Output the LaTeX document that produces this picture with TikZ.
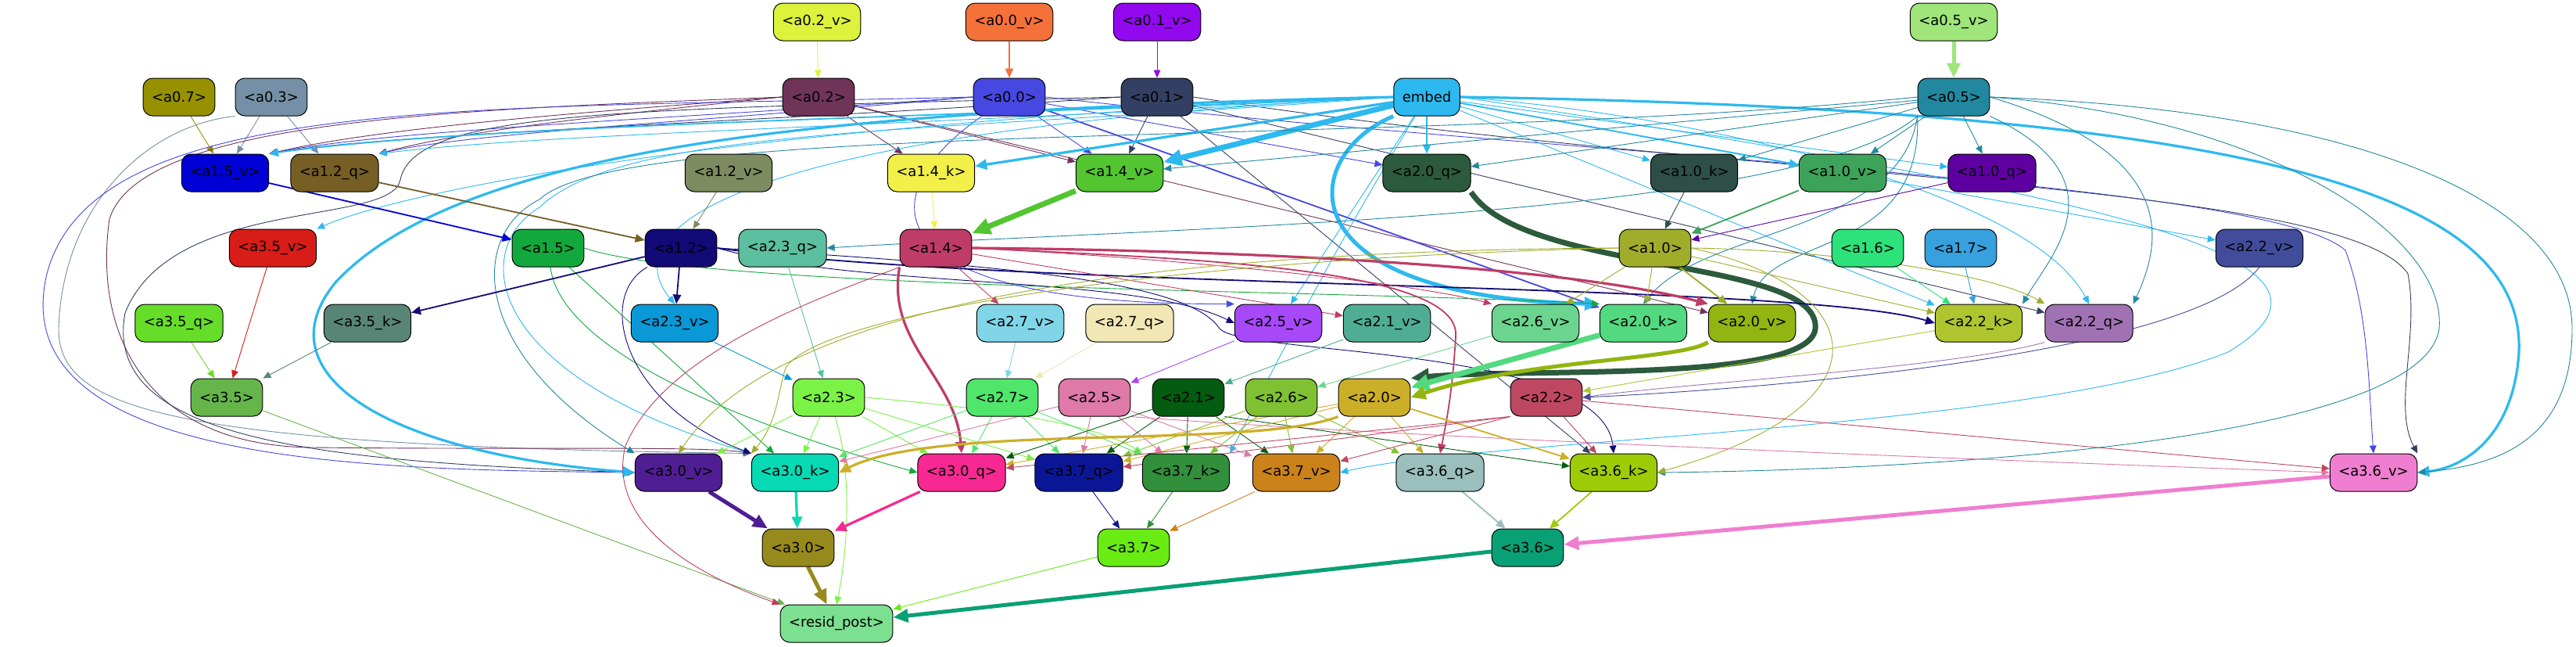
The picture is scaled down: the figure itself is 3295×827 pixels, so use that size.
\documentclass[tikz,border=0pt]{standalone}
\usepackage{fontspec}
\setmainfont{DejaVu Sans}
\usetikzlibrary{arrows.meta,backgrounds}
% node colours (edges take the colour of their source)
\definecolor{a02v}{HTML}{DCF23C}\definecolor{a00v}{HTML}{F5713A}\definecolor{a01v}{HTML}{9309EF}\definecolor{a05v}{HTML}{9FE57A}
\definecolor{a07}{HTML}{979100}\definecolor{a03}{HTML}{7590A6}\definecolor{a02}{HTML}{703459}\definecolor{a00}{HTML}{4747E1}
\definecolor{a01}{HTML}{344063}\definecolor{embed}{HTML}{2DB9EF}\definecolor{a05}{HTML}{22889F}
\definecolor{a15v}{HTML}{0000D6}\definecolor{a12q}{HTML}{765E25}\definecolor{a12v}{HTML}{7E8B61}\definecolor{a14k}{HTML}{F2F048}
\definecolor{a14v}{HTML}{52C531}\definecolor{a20q}{HTML}{2C5A3C}\definecolor{a10k}{HTML}{2D4F47}\definecolor{a10v}{HTML}{3EA35A}
\definecolor{a10q}{HTML}{5E00A1}
\definecolor{a35v}{HTML}{D81C18}\definecolor{a15}{HTML}{13A83D}\definecolor{a12}{HTML}{120A77}\definecolor{a23q}{HTML}{5CBF9F}
\definecolor{a14}{HTML}{BF3C68}\definecolor{a10}{HTML}{A0AD2B}\definecolor{a16}{HTML}{2DE27A}\definecolor{a17}{HTML}{36A1DE}
\definecolor{a22v}{HTML}{414D9B}
\definecolor{a35q}{HTML}{66DD29}\definecolor{a35k}{HTML}{598576}\definecolor{a23v}{HTML}{0A98D6}\definecolor{a27v}{HTML}{80D6E8}
\definecolor{a27q}{HTML}{F0E7B5}\definecolor{a25v}{HTML}{A748F9}\definecolor{a21v}{HTML}{4FAD94}\definecolor{a26v}{HTML}{6BD58F}
\definecolor{a20k}{HTML}{53D97F}\definecolor{a20v}{HTML}{93B511}\definecolor{a22k}{HTML}{AFC52F}\definecolor{a22q}{HTML}{A072B3}
\definecolor{a35}{HTML}{65B54A}\definecolor{a23}{HTML}{7BF246}\definecolor{a27}{HTML}{50E56B}\definecolor{a25}{HTML}{DE79A8}
\definecolor{a21}{HTML}{035C10}\definecolor{a26}{HTML}{7FC133}\definecolor{a20}{HTML}{CCAF28}\definecolor{a22}{HTML}{BE4862}
\definecolor{a30v}{HTML}{4F1E93}\definecolor{a30k}{HTML}{08D9B5}\definecolor{a30q}{HTML}{F72891}\definecolor{a37q}{HTML}{0B1697}
\definecolor{a37k}{HTML}{328F3B}\definecolor{a37v}{HTML}{CC821A}\definecolor{a36q}{HTML}{9ABFBC}\definecolor{a36k}{HTML}{9DCC07}
\definecolor{a36v}{HTML}{EF7ED0}\definecolor{a30}{HTML}{978A1C}\definecolor{a37}{HTML}{69EC14}\definecolor{a36}{HTML}{08A074}
\definecolor{resid}{HTML}{7CE091}
\tikzset{
  nd/.style={draw=black, line width=1pt, rounded corners=12pt, minimum height=48pt, inner xsep=11pt, inner ysep=0pt, font=\fontsize{18}{22}\selectfont},
  arr/.style={-{Triangle[length=8pt 2.2, width=7pt 1.9]}},
  ed/.style={arr, line width=0.9pt},
  em/.style={arr, line width=1.8pt},
  et/.style={arr, line width=3.2pt},
  ex/.style={arr, line width=5pt},
  ey/.style={arr, line width=7pt},
}
\begin{document}
\begin{tikzpicture}[x=1pt,y=-1pt]
\useasboundingbox (0,0) rectangle (3295,827);
% row 0
\node[nd, fill=a02v] (a02v) at (1045,28) {<a0.2\_v>};
\node[nd, fill=a00v] (a00v) at (1291,28) {<a0.0\_v>};
\node[nd, fill=a01v] (a01v) at (1480,28) {<a0.1\_v>};
\node[nd, fill=a05v] (a05v) at (2499,28) {<a0.5\_v>};
% row 1
\node[nd, fill=a07] (a07) at (229,124) {<a0.7>};
\node[nd, fill=a03] (a03) at (347,124) {<a0.3>};
\node[nd, fill=a02] (a02) at (1047,124) {<a0.2>};
\node[nd, fill=a00] (a00) at (1291,124) {<a0.0>};
\node[nd, fill=a01] (a01) at (1480,124) {<a0.1>};
\node[nd, fill=embed] (embed) at (1825,124) {embed};
\node[nd, fill=a05] (a05) at (2499,124) {<a0.5>};
% row 2
\node[nd, fill=a15v] (a15v) at (288,221) {<a1.5\_v>};
\node[nd, fill=a12q] (a12q) at (428,221) {<a1.2\_q>};
\node[nd, fill=a12v] (a12v) at (932,221) {<a1.2\_v>};
\node[nd, fill=a14k] (a14k) at (1191,221) {<a1.4\_k>};
\node[nd, fill=a14v] (a14v) at (1432,221) {<a1.4\_v>};
\node[nd, fill=a20q] (a20q) at (1825,221) {<a2.0\_q>};
\node[nd, fill=a10k] (a10k) at (2167,221) {<a1.0\_k>};
\node[nd, fill=a10v] (a10v) at (2357,221) {<a1.0\_v>};
\node[nd, fill=a10q] (a10q) at (2548,221) {<a1.0\_q>};
% row 3
\node[nd, fill=a35v] (a35v) at (349,317) {<a3.5\_v>};
\node[nd, fill=a15] (a15) at (701,317) {<a1.5>};
\node[nd, fill=a12] (a12) at (871,317) {<a1.2>};
\node[nd, fill=a23q] (a23q) at (1001,317) {<a2.3\_q>};
\node[nd, fill=a14] (a14) at (1197,317) {<a1.4>};
\node[nd, fill=a10] (a10) at (2117,317) {<a1.0>};
\node[nd, fill=a16] (a16) at (2389,317) {<a1.6>};
\node[nd, fill=a17] (a17) at (2508,317) {<a1.7>};
\node[nd, fill=a22v] (a22v) at (2890,317) {<a2.2\_v>};
% row 4
\node[nd, fill=a35q] (a35q) at (229,413) {<a3.5\_q>};
\node[nd, fill=a35k] (a35k) at (470,413) {<a3.5\_k>};
\node[nd, fill=a23v] (a23v) at (863,413) {<a2.3\_v>};
\node[nd, fill=a27v] (a27v) at (1305,413) {<a2.7\_v>};
\node[nd, fill=a27q] (a27q) at (1445,413) {<a2.7\_q>};
\node[nd, fill=a25v] (a25v) at (1635,413) {<a2.5\_v>};
\node[nd, fill=a21v] (a21v) at (1774,413) {<a2.1\_v>};
\node[nd, fill=a26v] (a26v) at (1964,413) {<a2.6\_v>};
\node[nd, fill=a20k] (a20k) at (2102,413) {<a2.0\_k>};
\node[nd, fill=a20v] (a20v) at (2241,413) {<a2.0\_v>};
\node[nd, fill=a22k] (a22k) at (2531,413) {<a2.2\_k>};
\node[nd, fill=a22q] (a22q) at (2672,413) {<a2.2\_q>};
% row 5
\node[nd, fill=a35] (a35) at (290,508) {<a3.5>};
\node[nd, fill=a23] (a23) at (1060,508) {<a2.3>};
\node[nd, fill=a27] (a27) at (1282,508) {<a2.7>};
\node[nd, fill=a25] (a25) at (1400,508) {<a2.5>};
\node[nd, fill=a21] (a21) at (1520,508) {<a2.1>};
\node[nd, fill=a26] (a26) at (1639,508) {<a2.6>};
\node[nd, fill=a20] (a20) at (1758,508) {<a2.0>};
\node[nd, fill=a22] (a22) at (1978,508) {<a2.2>};
% row 6
\node[nd, fill=a30v] (a30v) at (868,604) {<a3.0\_v>};
\node[nd, fill=a30k] (a30k) at (1017,604) {<a3.0\_k>};
\node[nd, fill=a30q] (a30q) at (1230,604) {<a3.0\_q>};
\node[nd, fill=a37q] (a37q) at (1380,604) {<a3.7\_q>};
\node[nd, fill=a37k] (a37k) at (1517,604) {<a3.7\_k>};
\node[nd, fill=a37v] (a37v) at (1658,604) {<a3.7\_v>};
\node[nd, fill=a36q] (a36q) at (1842,604) {<a3.6\_q>};
\node[nd, fill=a36k] (a36k) at (2064,604) {<a3.6\_k>};
\node[nd, fill=a36v] (a36v) at (3036,604) {<a3.6\_v>};
% rows 7, 8
\node[nd, fill=a30] (a30) at (1021,700) {<a3.0>};
\node[nd, fill=a37] (a37) at (1450,700) {<a3.7>};
\node[nd, fill=a36] (a36) at (1954,700) {<a3.6>};
\node[nd, fill=resid] (resid) at (1070,797) {<resid\_post>};

\begin{scope}[on background layer]
\fill[white] (0,0) rectangle (3295,827);
% inputs
\draw[ed,a02v] (a02v) -- (a02);   \draw[em,a00v] (a00v) -- (a00);   \draw[ed,a01v] (a01v) -- (a01);   \draw[ex,a05v] (a05v) -- (a05);
% a0.7, a0.3
\draw[ed,a07] (a07) -- (a15v);   \draw[ed,a03] (a03) -- (a15v);   \draw[ed,a03] (a03) -- (a12q);
\draw[ed,a03] (a03.south west) .. controls (190,160) and (80,260) .. (75,420) .. controls (75,520) and (200,570) .. (a30k.north west);
% a0.2
\draw[ed,a02] (a02.west) .. controls (800,140) and (500,160) .. (a15v.north east);
\draw[ed,a02] (a02.west) .. controls (800,145) and (600,165) .. (a12q.north east);
\draw[ed,a02] (a02) -- (a14k);   \draw[ed,a02] (a02) -- (a14v);   \draw[ed,a02] (a02) -- (a20v);
\draw[ed,a02] (a02.west) .. controls (600,140) and (180,150) .. (140,280) .. controls (120,420) and (180,570) .. (400,572) .. controls (700,575) and (900,570) .. (a30k.north west);
% a0.0
\draw[ed,a00] (a00.west) .. controls (900,150) and (500,165) .. (a15v.north east);
\draw[ed,a00] (a00.west) .. controls (900,155) and (600,170) .. (a12q.north east);
\draw[ed,a00] (a00) -- (a14v);   \draw[ed,a00] (a00) -- (a20q);   \draw[em,a00] (a00) -- (a20k);
\draw[ed,a00] (a00) .. controls (1110,250) and (1110,390) .. (a25v.north west);
\draw[ed,a00] (a00.west) .. controls (600,140) and (120,120) .. (60,350) .. controls (0,600) and (500,600) .. (a30v.west);
\draw[ed,a00] (a00.east) .. controls (2000,200) and (2900,230) .. (3000,320) .. controls (3030,400) and (3030,500) .. (a36v.north);
% a0.1
\draw[ed,a01] (a01.west) .. controls (1000,155) and (500,170) .. (a15v.north east);
\draw[ed,a01] (a01) -- (a14v);   \draw[ed,a01] (a01) -- (a22q);   \draw[ed,a01] (a01) -- (a36k);
\draw[ed,a01] (a01.west) .. controls (800,140) and (530,140) .. (512,230) .. controls (500,290) and (220,250) .. (160,400) .. controls (130,560) and (400,590) .. (a30v.west);
\draw[ed,a01] (a01.east) .. controls (2200,230) and (3000,230) .. (3080,350) .. controls (3095,430) and (3060,520) .. (a36v.north east);
% embed
\draw[em,embed] (embed.west) .. controls (1200,150) and (600,160) .. (a15v.north east);
\draw[ed,embed] (embed.west) .. controls (1200,160) and (700,170) .. (a12q.north east);
\draw[et,embed] (embed) -- (a14k);   \draw[ey,embed] (embed) -- (a14v);   \draw[em,embed] (embed) -- (a20q);
\draw[ed,embed] (embed) -- (a10k);   \draw[em,embed] (embed) -- (a10v);   \draw[ed,embed] (embed) -- (a10q);
\draw[ed,embed] (embed) -- (a22k);   \draw[ed,embed] (embed) -- (a22v);   \draw[ed,embed] (embed) -- (a25v);
\draw[ed,embed] (embed.east) .. controls (2200,150) and (2600,250) .. (a22q.north);
\draw[ed,embed] (embed.west) .. controls (900,160) and (500,250) .. (a35v.north east);
\draw[ed,embed] (embed.west) .. controls (900,170) and (790,300) .. (a23v.north);
\draw[ed,embed] (embed.west) .. controls (1200,170) and (800,160) .. (690,265) .. controls (600,320) and (620,480) .. (a30k.north west);
\draw[et,embed] (embed.west) .. controls (1100,140) and (600,180) .. (430,360) .. controls (330,480) and (500,580) .. (a30v.west);
\draw[ex,embed] (embed.south west) .. controls (1660,200) and (1640,380) .. (a20k.north west);
\draw[et,embed] (embed.east) .. controls (2900,140) and (3230,250) .. (3222,450) .. controls (3215,560) and (3150,598) .. (a36v.east);
\draw[ed,embed] (embed) .. controls (1700,330) and (1640,450) .. (a37k.north east);
\draw[ed,embed] (embed.east) .. controls (2700,250) and (3050,330) .. (2850,450) .. controls (2600,550) and (1900,560) .. (a37v.east);
% a0.5
\draw[ed,a05] (a05) -- (a14v);   \draw[ed,a05] (a05) -- (a20q);
\draw[ed,a05] (a05) -- (a10k);   \draw[ed,a05] (a05) -- (a10v);   \draw[ed,a05] (a05) -- (a10q);
\draw[ed,a05] (a05.south west) .. controls (2300,280) and (1500,290) .. (a23q.east);
\draw[ed,a05] (a05.south west) .. controls (2430,300) and (2180,290) .. (a20k.north);
\draw[ed,a05] (a05.south west) .. controls (2460,330) and (2260,300) .. (a20v.north);
\draw[ed,a05] (a05.south east) .. controls (2720,230) and (2620,330) .. (a22k.north east);
\draw[ed,a05] (a05.east) .. controls (2800,200) and (2760,320) .. (a22q.north east);
\draw[ed,a05] (a05.west) .. controls (1800,190) and (800,150) .. (690,255) .. controls (600,300) and (600,450) .. (a30v.north west);
\draw[ed,a05] (a05.east) .. controls (2900,150) and (3130,300) .. (3120,420) .. controls (3100,560) and (2500,600) .. (a36k.east);
\draw[ed,a05] (a05.east) .. controls (3000,140) and (3290,250) .. (3290,420) .. controls (3290,560) and (3200,595) .. (a36v.east);
% row 2 to row 3
\draw[em,a15v] (a15v) -- (a15);   \draw[em,a12q] (a12q) -- (a12);   \draw[ed,a12v] (a12v) -- (a12);
\draw[ed,a14k] (a14k) -- (a14);   \draw[ey,a14v] (a14v) -- (a14);
\draw[ed,a10k] (a10k) -- (a10);   \draw[em,a10v] (a10v) -- (a10);   \draw[ed,a10q] (a10q) -- (a10);
\draw[ey,a20q] (a20q.south east) .. controls (1950,350) and (2330,330) .. (2322,420) .. controls (2315,490) and (1950,470) .. (a20.north east);
% a3.5 group
\draw[ed,a35v] (a35v) -- (a35);   \draw[ed,a35q] (a35q) -- (a35);   \draw[ed,a35k] (a35k) -- (a35);   \draw[ed,a35] (a35) -- (resid);
% a1.5
\draw[ed,a15] (a15) .. controls (720,470) and (1050,570) .. (a30q.west);   \draw[ed,a15] (a15) -- (a30k);
\draw[ed,a15] (a15.east) .. controls (900,370) and (1700,370) .. (a20k.north west);
% a1.2
\draw[em,a12] (a12) -- (a35k);   \draw[em,a12] (a12) -- (a23v);
\draw[ed,a12] (a12) .. controls (760,380) and (800,520) .. (a30k.north west);
\draw[ed,a12] (a12.east) .. controls (1100,370) and (1450,350) .. (a25v.west);
\draw[em,a12] (a12.east) .. controls (1300,370) and (2300,360) .. (a22k.west);
\draw[ed,a12] (a12.east) .. controls (1300,340) and (1520,360) .. (1560,420) .. controls (1590,455) and (2050,440) .. (a36k.north);
\draw[ed,a23q] (a23q) -- (a23);
% a1.4
\draw[ed,a14] (a14) -- (a27v);   \draw[ed,a14] (a14) -- (a21v);
\draw[ed,a14] (a14.east) .. controls (1500,330) and (1800,360) .. (a26v.north west);
\draw[et,a14] (a14.east) .. controls (1600,320) and (2000,340) .. (a20v.north west);
\draw[et,a14] (a14.south west) to[out=-100,in=95] (a30q.north);
\draw[em,a14] (a14.east) .. controls (1500,330) and (1870,340) .. (1862,430) .. controls (1858,500) and (1850,540) .. (a36q.north);
\draw[ed,a14] (a14.south west) .. controls (1050,380) and (850,450) .. (800,570) .. controls (780,650) and (850,720) .. (resid.north west);
% a1.0
\draw[ed,a10] (a10) -- (a26v);   \draw[ed,a10] (a10) -- (a20k);   \draw[em,a10] (a10) -- (a20v);   \draw[ed,a10] (a10) -- (a22k);
\draw[ed,a10] (a10.east) .. controls (2350,320) and (2550,350) .. (a22q.north west);
\draw[ed,a10] (a10.west) .. controls (1500,320) and (1000,380) .. (a30v.north);
\draw[ed,a10] (a10.west) .. controls (1500,330) and (1050,400) .. (1005,470) .. controls (995,500) and (995,540) .. (a30k.north west);
\draw[ed,a10] (a10.east) .. controls (2400,370) and (2420,520) .. (a36k.east);
% row 4 to row 5
\draw[ed,a23v] (a23v) -- (a23);   \draw[ed,a27v] (a27v) -- (a27);   \draw[ed,a27q] (a27q) -- (a27);
\draw[ed,a25v] (a25v) -- (a25);   \draw[ed,a21v] (a21v) -- (a21);   \draw[ed,a26v] (a26v) -- (a26);
\draw[ey,a20k] (a20k) -- (a20);
\draw[ex,a20v] (a20v.south west) .. controls (2150,460) and (1950,460) .. (a20.east);
\draw[ed,a22k] (a22k) -- (a22);
\draw[ed,a22q] (a22q.south west) .. controls (2500,470) and (2150,490) .. (a22.east);
\draw[ed,a22v] (a22v.south) .. controls (2800,460) and (2200,500) .. (a22.east);
\draw[ed,a16] (a16) -- (a22k);   \draw[ed,a17] (a17) -- (a22k);
% row 5 to row 6
\draw[ed,a23] (a23) -- (a30v);   \draw[ed,a23] (a23) -- (a30k);   \draw[ed,a23] (a23) -- (a30q);   \draw[ed,a23] (a23) -- (a37q);
\draw[ed,a23] (a23.east) .. controls (1250,520) and (1400,540) .. (a37k.north west);
\draw[ed,a23] (a23) .. controls (1090,600) and (1085,700) .. (resid.north);
\draw[ed,a27] (a27) -- (a30k);   \draw[ed,a27] (a27) -- (a30q);   \draw[ed,a27] (a27) -- (a37q);   \draw[ed,a27] (a27) -- (a37k);
\draw[ed,a25] (a25) -- (a30k);   \draw[ed,a25] (a25) -- (a37q);   \draw[ed,a25] (a25) -- (a37k);   \draw[ed,a25] (a25) -- (a37v);
\draw[ed,a25] (a25.south east) .. controls (1800,560) and (2600,590) .. (a36v.west);
\draw[ed,a21] (a21) -- (a30q);   \draw[ed,a21] (a21) -- (a37q);   \draw[ed,a21] (a21) -- (a37k);   \draw[ed,a21] (a21) -- (a37v);
\draw[ed,a21] (a21.south east) -- (a36k);
\draw[ed,a26] (a26) -- (a37q);   \draw[ed,a26] (a26) -- (a37k);   \draw[ed,a26] (a26) -- (a37v);   \draw[ed,a26] (a26) -- (a36q);
\draw[et,a20] (a20.south west) .. controls (1600,575) and (1200,540) .. (a30k.east);
\draw[ed,a20] (a20) -- (a30q);   \draw[ed,a20] (a20) -- (a37q);   \draw[ed,a20] (a20) -- (a37v);   \draw[ed,a20] (a20) -- (a36q);
\draw[em,a20] (a20) -- (a36k);
\draw[ed,a22] (a22.south west) -- (a30q);   \draw[ed,a22] (a22.south west) -- (a37q);   \draw[ed,a22] (a22.south west) -- (a37v);
\draw[ed,a22] (a22) -- (a36k);   \draw[ed,a22] (a22) -- (a36v);
% row 6 to the output
\draw[ex,a30v] (a30v) -- (a30);   \draw[et,a30k] (a30k) -- (a30);   \draw[et,a30q] (a30q) -- (a30);
\draw[ed,a37q] (a37q) -- (a37);   \draw[ed,a37k] (a37k) -- (a37);   \draw[ed,a37v] (a37v) -- (a37);
\draw[em,a36q] (a36q) -- (a36);   \draw[em,a36k] (a36k) -- (a36);   \draw[ex,a36v] (a36v) -- (a36);
\draw[ex,a30] (a30) -- (resid);   \draw[ed,a37] (a37) -- (resid);   \draw[ex,a36] (a36) -- (resid);
\end{scope}
\end{tikzpicture}
\end{document}
